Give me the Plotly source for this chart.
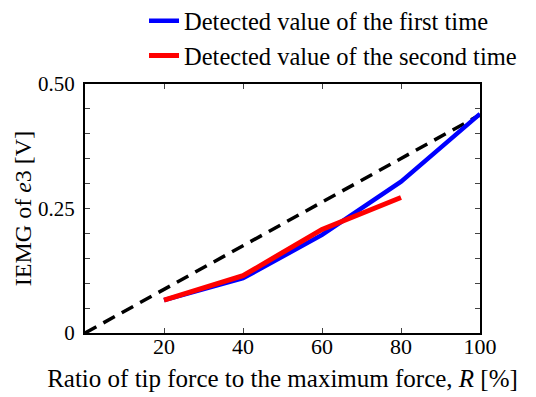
import plotly.graph_objects as go

R_first = [20, 40, 60, 80, 100]
iemg_first = [0.066, 0.110, 0.197, 0.304, 0.440]
R_second = [20, 40, 60, 80]
iemg_second = [0.066, 0.115, 0.208, 0.272]
R_ref = [0, 100]
iemg_ref = [0.0, 0.438]

x_ticks = [20, 40, 60, 80, 100]
y_ticks = [i * 0.05 for i in range(11)]
y_ticklabels = ["0", "", "", "", "", "0.25", "", "", "", "", "0.50"]

FONT = "Liberation Serif, Times New Roman, serif"

fig = go.Figure()
fig.add_trace(go.Scatter(x=R_ref, y=iemg_ref, mode="lines",
                         line=dict(color="black", width=3.5, dash="13px,8px"),
                         showlegend=False))
fig.add_trace(go.Scatter(x=R_first, y=iemg_first, mode="lines",
                         line=dict(color="#0000ff", width=4.5),
                         name="Detected value of the first time"))
fig.add_trace(go.Scatter(x=R_second, y=iemg_second, mode="lines",
                         line=dict(color="#ff0000", width=5),
                         name="Detected value of the second time"))

fig.update_layout(
    width=536, height=397,
    margin=dict(l=77, r=64, t=76, b=72, autoexpand=False),
    paper_bgcolor="white", plot_bgcolor="white",
    font=dict(family=FONT, size=22, color="black"),
    legend=dict(x=0.1494, y=1.344, xanchor="left", yanchor="top",
                bgcolor="rgba(0,0,0,0)", font=dict(size=24.5),
                tracegroupgap=0),
    xaxis=dict(range=[0, 100], tickvals=x_ticks, ticks="inside", ticklen=5,
               ticklabelstandoff=-7, tickfont=dict(size=22),
               showline=True, linecolor="black", linewidth=2, mirror="ticks",
               showgrid=False, zeroline=False,
               title=dict(text="Ratio of tip force to the maximum force, <i>R</i> [%]",
                          font=dict(size=25), standoff=11)),
    yaxis=dict(range=[0, 0.5], tickvals=y_ticks, ticktext=y_ticklabels,
               ticks="inside", ticklen=5, ticklabelstandoff=4,
               tickfont=dict(size=21),
               showline=True, linecolor="black", linewidth=2, mirror="ticks",
               showgrid=False, zeroline=False,
               title=dict(text="IEMG of <i>e</i>3 [V]", font=dict(size=24), standoff=0)),
)

fig.write_html("out.html")
